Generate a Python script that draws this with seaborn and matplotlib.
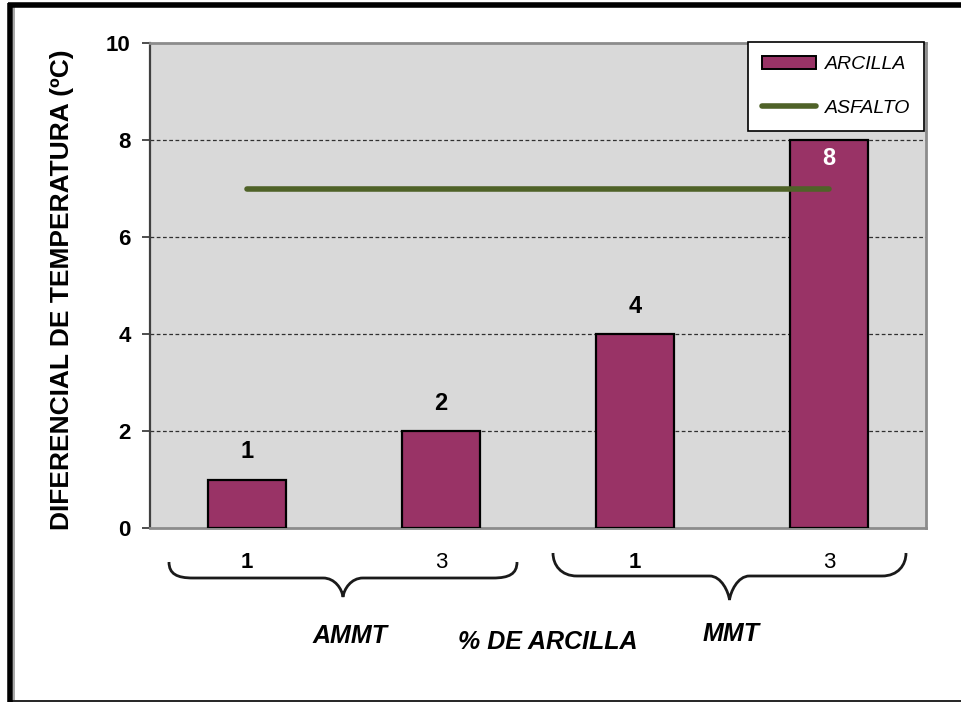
import numpy as np
import pandas as pd
import matplotlib
matplotlib.use("Agg")
import matplotlib.pyplot as plt
import seaborn as sns
from matplotlib.path import Path
from matplotlib.patches import PathPatch, Patch
from matplotlib.lines import Line2D
from matplotlib.transforms import Affine2D

# --- data -----------------------------------------------------------------
grupos = ["AMMT 1", "AMMT 3", "MMT 1", "MMT 3"]
pct_arcilla = ["1", "3", "1", "3"]
arcilla = [1, 2, 4, 8]
asfalto = [7, 7, 7, 7]
y_ticks = [0, 2, 4, 6, 8, 10]

W, H = 961, 702
BAR = "#993366"
OLIVE = "#4F6228"

sns.set_theme(style="white")
plt.rcParams["font.family"] = ["Liberation Sans", "DejaVu Sans"]
plt.rcParams["text.color"] = "black"
plt.rcParams["ytick.labelcolor"] = "black"
plt.rcParams["xtick.labelcolor"] = "black"

fig = plt.figure(figsize=(W / 100, H / 100), dpi=100)
# pixel coordinates measured from the top-left corner
px = Affine2D().scale(1 / W, -1 / H).translate(0, 1) + fig.transFigure

ax = fig.add_axes([150 / W, (H - 528) / H, (926 - 150) / W, (528 - 43) / H])
ax.set_facecolor("#D9D9D9")

df = pd.DataFrame({"grupo": grupos, "arcilla": arcilla})
sns.barplot(data=df, x="grupo", y="arcilla", color=BAR, saturation=1,
            width=0.4, edgecolor="black", linewidth=1.6, ax=ax, zorder=3)
sns.lineplot(x=np.arange(len(asfalto)), y=asfalto, color=OLIVE, lw=4,
             ax=ax, zorder=4)

ax.set_xlim(-0.5, 3.5)
ax.set_ylim(0, 10)
ax.set_yticks(y_ticks)
ax.set_yticklabels([str(t) for t in y_ticks], fontsize=16, fontweight="bold")
ax.tick_params(axis="y", left=True, length=6, width=1.2, color="#303030", pad=8)
ax.set_xticks([])
ax.set_xlabel("")
ax.set_ylabel("")
for y in y_ticks[1:-1]:
    ax.axhline(y, color="#303030", lw=0.9, ls=(0, (3, 2)), zorder=1)
for side in ["top", "right", "bottom"]:
    ax.spines[side].set_color("#8C8C8C")
    ax.spines[side].set_linewidth(2)
ax.spines["left"].set_color("#404040")
ax.spines["left"].set_linewidth(1.6)

# value labels
for i, v in enumerate(arcilla):
    if v >= 8:
        ax.annotate(str(v), (i, v), xytext=(0, -5), textcoords="offset points",
                    ha="center", va="top", fontsize=17, fontweight="bold",
                    color="white", zorder=5)
    else:
        ax.annotate(str(v), (i, v), xytext=(0, 20), textcoords="offset points",
                    ha="center", va="center", fontsize=17, fontweight="bold",
                    color="black", zorder=5)

# clay percentage under each bar
xt = ax.get_xaxis_transform()
for i, lab in enumerate(pct_arcilla):
    ax.text(i, -0.05, lab, transform=xt, ha="center", va="top", fontsize=16,
            fontweight="bold" if lab == "1" else "normal")

# legend
handles = [Patch(facecolor=BAR, edgecolor="black", linewidth=1.4),
           Line2D([0], [0], color=OLIVE, lw=4)]
leg = fig.legend(handles, ["ARCILLA", "ASFALTO"], loc="upper left",
                 bbox_to_anchor=(748 / W, (H - 42) / H),
                 prop={"style": "italic", "size": 14}, frameon=True,
                 fancybox=False, edgecolor="black", framealpha=1,
                 handlelength=2.8, handleheight=0.7, labelspacing=1.35,
                 borderpad=0.7, handletextpad=0.45, borderaxespad=0)
leg.get_frame().set_linewidth(1.2)

# braces grouping the two clay types
def brace(x0, x1, ytop, yh, ytip):
    xm = (x0 + x1) / 2
    verts = [(x0, ytop),
             (x0, ytop + 12), (x0 + 8, yh), (x0 + 24, yh),
             (xm - 20, yh),
             (xm - 8, yh), (xm - 1, ytip - 8), (xm, ytip),
             (xm + 1, ytip - 8), (xm + 8, yh), (xm + 20, yh),
             (x1 - 24, yh),
             (x1 - 8, yh), (x1, ytop + 12), (x1, ytop)]
    codes = [Path.MOVETO,
             Path.CURVE4, Path.CURVE4, Path.CURVE4,
             Path.LINETO,
             Path.CURVE4, Path.CURVE4, Path.CURVE4,
             Path.CURVE4, Path.CURVE4, Path.CURVE4,
             Path.LINETO,
             Path.CURVE4, Path.CURVE4, Path.CURVE4]
    fig.add_artist(PathPatch(Path(verts, codes), fill=False, lw=2,
                             edgecolor="#1A1A1A", transform=px))

brace(169, 517, 562, 578, 597)
brace(553, 906, 553, 576, 600)

# group and axis titles
title_kw = dict(transform=px, ha="center", va="center", fontsize=18,
                fontweight="bold", style="italic")
fig.text(350, 636, "AMMT", **title_kw)
fig.text(548, 642, "% DE ARCILLA", **title_kw)
fig.text(731, 634, "MMT", **title_kw)
fig.text(62, 290, "DIFERENCIAL DE TEMPERATURA (ºC)", transform=px,
         ha="center", va="center", rotation=90, fontsize=19,
         fontweight="bold")

# outer frame
frame_kw = dict(transform=px, solid_capstyle="butt")
fig.add_artist(Line2D([10, 10], [3, 702], color="black", lw=4, **frame_kw))
fig.add_artist(Line2D([13.5, 13.5], [7, 700], color="#999999", lw=1.2, **frame_kw))
fig.add_artist(Line2D([8, W], [5, 5], color="black", lw=4, **frame_kw))
fig.add_artist(Line2D([10, W], [700.5, 700.5], color="black", lw=1.2, **frame_kw))

fig.savefig("out.png", dpi=100, facecolor="white")
